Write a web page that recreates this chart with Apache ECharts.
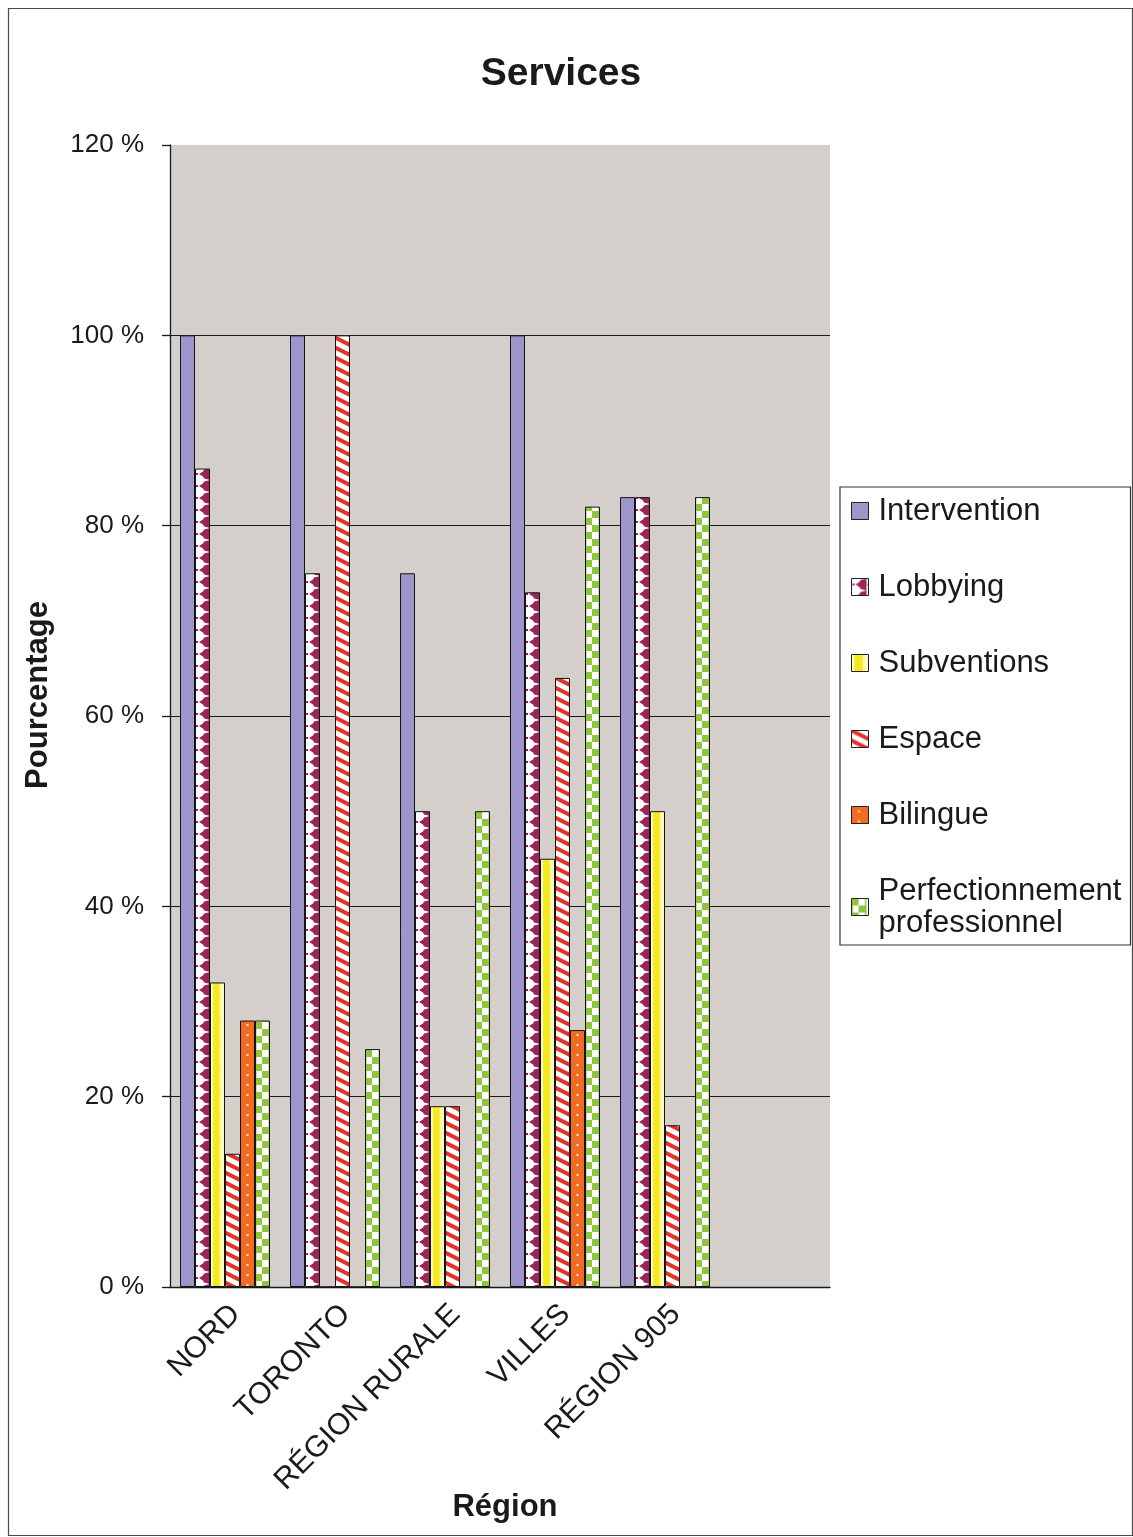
<!DOCTYPE html>
<html>
<head>
<meta charset="utf-8">
<script src="https://cdn.jsdelivr.net/npm/echarts@6/dist/echarts.min.js"></script>
<style>
  html, body { margin: 0; padding: 0; background: #ffffff; }
  #chart { width: 1133px; height: 1537px; }
</style>
</head>
<body>
<div id="chart"></div>
<script>
// Survey results: services wanted, by region (percent of respondents)
const regions = ['NORD', 'TORONTO', 'RÉGION RURALE', 'VILLES', 'RÉGION 905', ''];
const intervention     = [100, 100, 75, 100, 83];
const lobbying         = [86, 75, 50, 73, 83];
const subventions      = [32, 0, 19, 45, 50];
const espace           = [14, 100, 19, 64, 17];
const bilingue         = [28, 0, 0, 27, 0];
const perfectionnement = [28, 25, 50, 82, 83];
const yTicks = [0, 20, 40, 60, 80, 100, 120];

const FONT = '"Liberation Sans", Arial, sans-serif';
const GRID = { left: 170, right: 303, top: 145, bottom: 250 };
const BAR_W = 15;
const N_SERIES = 6;
const BAND = (1133 - GRID.left - GRID.right) / regions.length;   // category width
const COL0 = (BAND - BAR_W * N_SERIES) / 2;                       // first bar offset in a band

// Build a repeating tile one category band wide; draw(g, x0) paints one bar column.
function bandTile(h, draw) {
  const c = document.createElement('canvas');
  c.width = BAND; c.height = h;
  const g = c.getContext('2d');
  for (let k = 0; k < N_SERIES; k++) draw(g, COL0 + BAR_W * k);
  return c;
}

const tiles = {
  lobbying: bandTile(12, (g, x0) => {
    g.fillStyle = '#ffffff'; g.fillRect(x0, 0, BAR_W, 12);
    g.fillStyle = '#9c2558';
    g.beginPath();
    g.moveTo(x0 + BAR_W, 0); g.lineTo(x0 + 9, 1.5); g.lineTo(x0 + 8, 3.5); g.lineTo(x0 + 4, 6);
    g.lineTo(x0 + 8, 8.5); g.lineTo(x0 + 9, 10.5); g.lineTo(x0 + BAR_W, 12); g.closePath(); g.fill();
    g.fillRect(x0 + 1, 5, 2, 2);
  }),
  // diagonal red stripes, falling to the right; width 20 keeps the tile seamless
  espace: (() => {
    const c = document.createElement('canvas');
    c.width = 20; c.height = 10;
    const g = c.getContext('2d');
    g.fillStyle = '#ffffff'; g.fillRect(0, 0, 20, 10);
    g.strokeStyle = '#e5312a'; g.lineWidth = 4;
    for (let s = -30; s <= 20; s += 10) {
      g.beginPath(); g.moveTo(-10, s - 5); g.lineTo(30, s + 15); g.stroke();
    }
    return c;
  })(),
  bilingue: bandTile(10, (g, x0) => {
    g.fillStyle = '#f26b22'; g.fillRect(x0, 0, BAR_W, 10);
    g.fillStyle = '#ffe9d6'; g.fillRect(x0 + 6.5, 4, 2, 2);
  }),
  perfectionnement: bandTile(14, (g, x0) => {
    g.fillStyle = '#ffffff'; g.fillRect(x0, 0, BAR_W, 14);
    g.fillStyle = '#8fc43f';
    g.fillRect(x0, 0, 7, 7);
    g.fillRect(x0 + 7, 7, 8, 7);
    g.fillRect(x0, 0, 1.5, 14);
    g.fillRect(x0 + BAR_W - 1.5, 0, 1.5, 14);
  })
};

// Band tiles are anchored to the grid so each column lines up with its bar.
function bandPattern(img, originX) {
  return { image: img, repeat: 'repeat', x: originX, y: 0 };
}

const subventionFill = {
  type: 'linear', x: 0, y: 0, x2: 1, y2: 0,
  colorStops: [
    { offset: 0, color: '#fdfac8' }, { offset: 0.18, color: '#fdfac8' },
    { offset: 0.2, color: '#f6ea1c' }, { offset: 0.62, color: '#f6ea1c' },
    { offset: 0.66, color: '#fbf6a8' }, { offset: 1, color: '#fdfac8' }
  ]
};

const fills = [
  '#9e96ca',
  bandPattern(tiles.lobbying, GRID.left),
  subventionFill,
  { image: tiles.espace, repeat: 'repeat' },
  bandPattern(tiles.bilingue, GRID.left),
  bandPattern(tiles.perfectionnement, GRID.left)
];

// legend icons are drawn in their own local frame, starting at x = 0
const legendFills = [
  '#9e96ca',
  bandPattern(tiles.lobbying, -(COL0 + BAR_W * 1)),
  subventionFill,
  { image: tiles.espace, repeat: 'repeat' },
  bandPattern(tiles.bilingue, -(COL0 + BAR_W * 4)),
  bandPattern(tiles.perfectionnement, -(COL0 + BAR_W * 5))
];

const names = ['Intervention', 'Lobbying', 'Subventions', 'Espace', 'Bilingue', 'Perfectionnement professionnel'];
const values = [intervention, lobbying, subventions, espace, bilingue, perfectionnement];

const series = names.map((name, i) => ({
  name: name,
  type: 'bar',
  barWidth: BAR_W,
  barGap: '0%',
  data: values[i],
  itemStyle: { color: fills[i], borderColor: '#141414', borderWidth: 1 },
  emphasis: { disabled: true }
}));

// no gridline along the top edge of the plot
const gridLineColors = yTicks.map((t, i) => i === yTicks.length - 1 ? 'rgba(0,0,0,0)' : '#1a1a1a');

const chart = echarts.init(document.getElementById('chart'), null, { renderer: 'canvas' });
chart.setOption({
  animation: false,
  backgroundColor: '#ffffff',
  textStyle: { fontFamily: FONT },
  title: {
    text: 'Services',
    left: 556, top: 50, textAlign: 'center',
    textStyle: { fontFamily: FONT, fontSize: 39, fontWeight: 'bold', color: '#1a1a1a' }
  },
  legend: {
    orient: 'vertical',
    left: 840, top: 487,
    padding: [8, 9, 6, 11],
    borderColor: '#333333', borderWidth: 1.2,
    backgroundColor: '#ffffff',
    itemWidth: 17, itemHeight: 17, itemGap: 44,
    icon: 'rect',
    selectedMode: false,
    formatter: n => n.replace(' ', '\n'),
    textStyle: { fontFamily: FONT, fontSize: 31, color: '#1a1a1a', lineHeight: 32, padding: [0, 0, 0, 5] },
    data: names.map((n, i) => ({
      name: n,
      itemStyle: { color: legendFills[i], borderColor: '#222', borderWidth: 1 }
    }))
  },
  grid: {
    left: GRID.left, right: GRID.right, top: GRID.top, bottom: GRID.bottom,
    outerBoundsMode: 'none',
    show: true, backgroundColor: '#d4cfcb', borderWidth: 0
  },
  xAxis: {
    type: 'category',
    data: regions,
    name: 'Région',
    nameLocation: 'middle',
    nameGap: 205,
    nameMoveOverlap: false,
    nameTextStyle: { fontFamily: FONT, fontSize: 31, fontWeight: 'bold', color: '#1a1a1a', padding: [0, 0, 0, 10] },
    axisLine: { lineStyle: { color: '#1a1a1a', width: 1.3 } },
    axisTick: { alignWithLabel: false, length: 8, lineStyle: { color: '#1a1a1a', width: 1.3 } },
    axisLabel: { rotate: 45, interval: 0, margin: 12, verticalAlign: 'top', fontFamily: FONT, fontSize: 30, color: '#1a1a1a' }
  },
  yAxis: {
    type: 'value',
    min: yTicks[0], max: yTicks[yTicks.length - 1], interval: yTicks[1] - yTicks[0],
    name: 'Pourcentage',
    nameLocation: 'middle',
    nameGap: 116,
    nameMoveOverlap: false,
    nameRotate: 90,
    nameTextStyle: { fontFamily: FONT, fontSize: 31, fontWeight: 'bold', color: '#1a1a1a', padding: [0, 0, 0, 42] },
    axisLine: { show: true, lineStyle: { color: '#1a1a1a', width: 1.3 } },
    axisTick: { show: true, length: 8, lineStyle: { color: '#1a1a1a', width: 1.3 } },
    axisLabel: { margin: 26, fontFamily: FONT, fontSize: 26, color: '#1a1a1a', formatter: '{value} %' },
    splitLine: { show: true, lineStyle: { color: gridLineColors, width: 1.2 } }
  },
  series: series,
  graphic: [{
    type: 'rect', silent: true, z: -1,
    shape: { x: 8.5, y: 8.5, width: 1124, height: 1527 },
    style: { fill: 'none', stroke: '#4a4a4a', lineWidth: 1.2 }
  }]
});
</script>
</body>
</html>
